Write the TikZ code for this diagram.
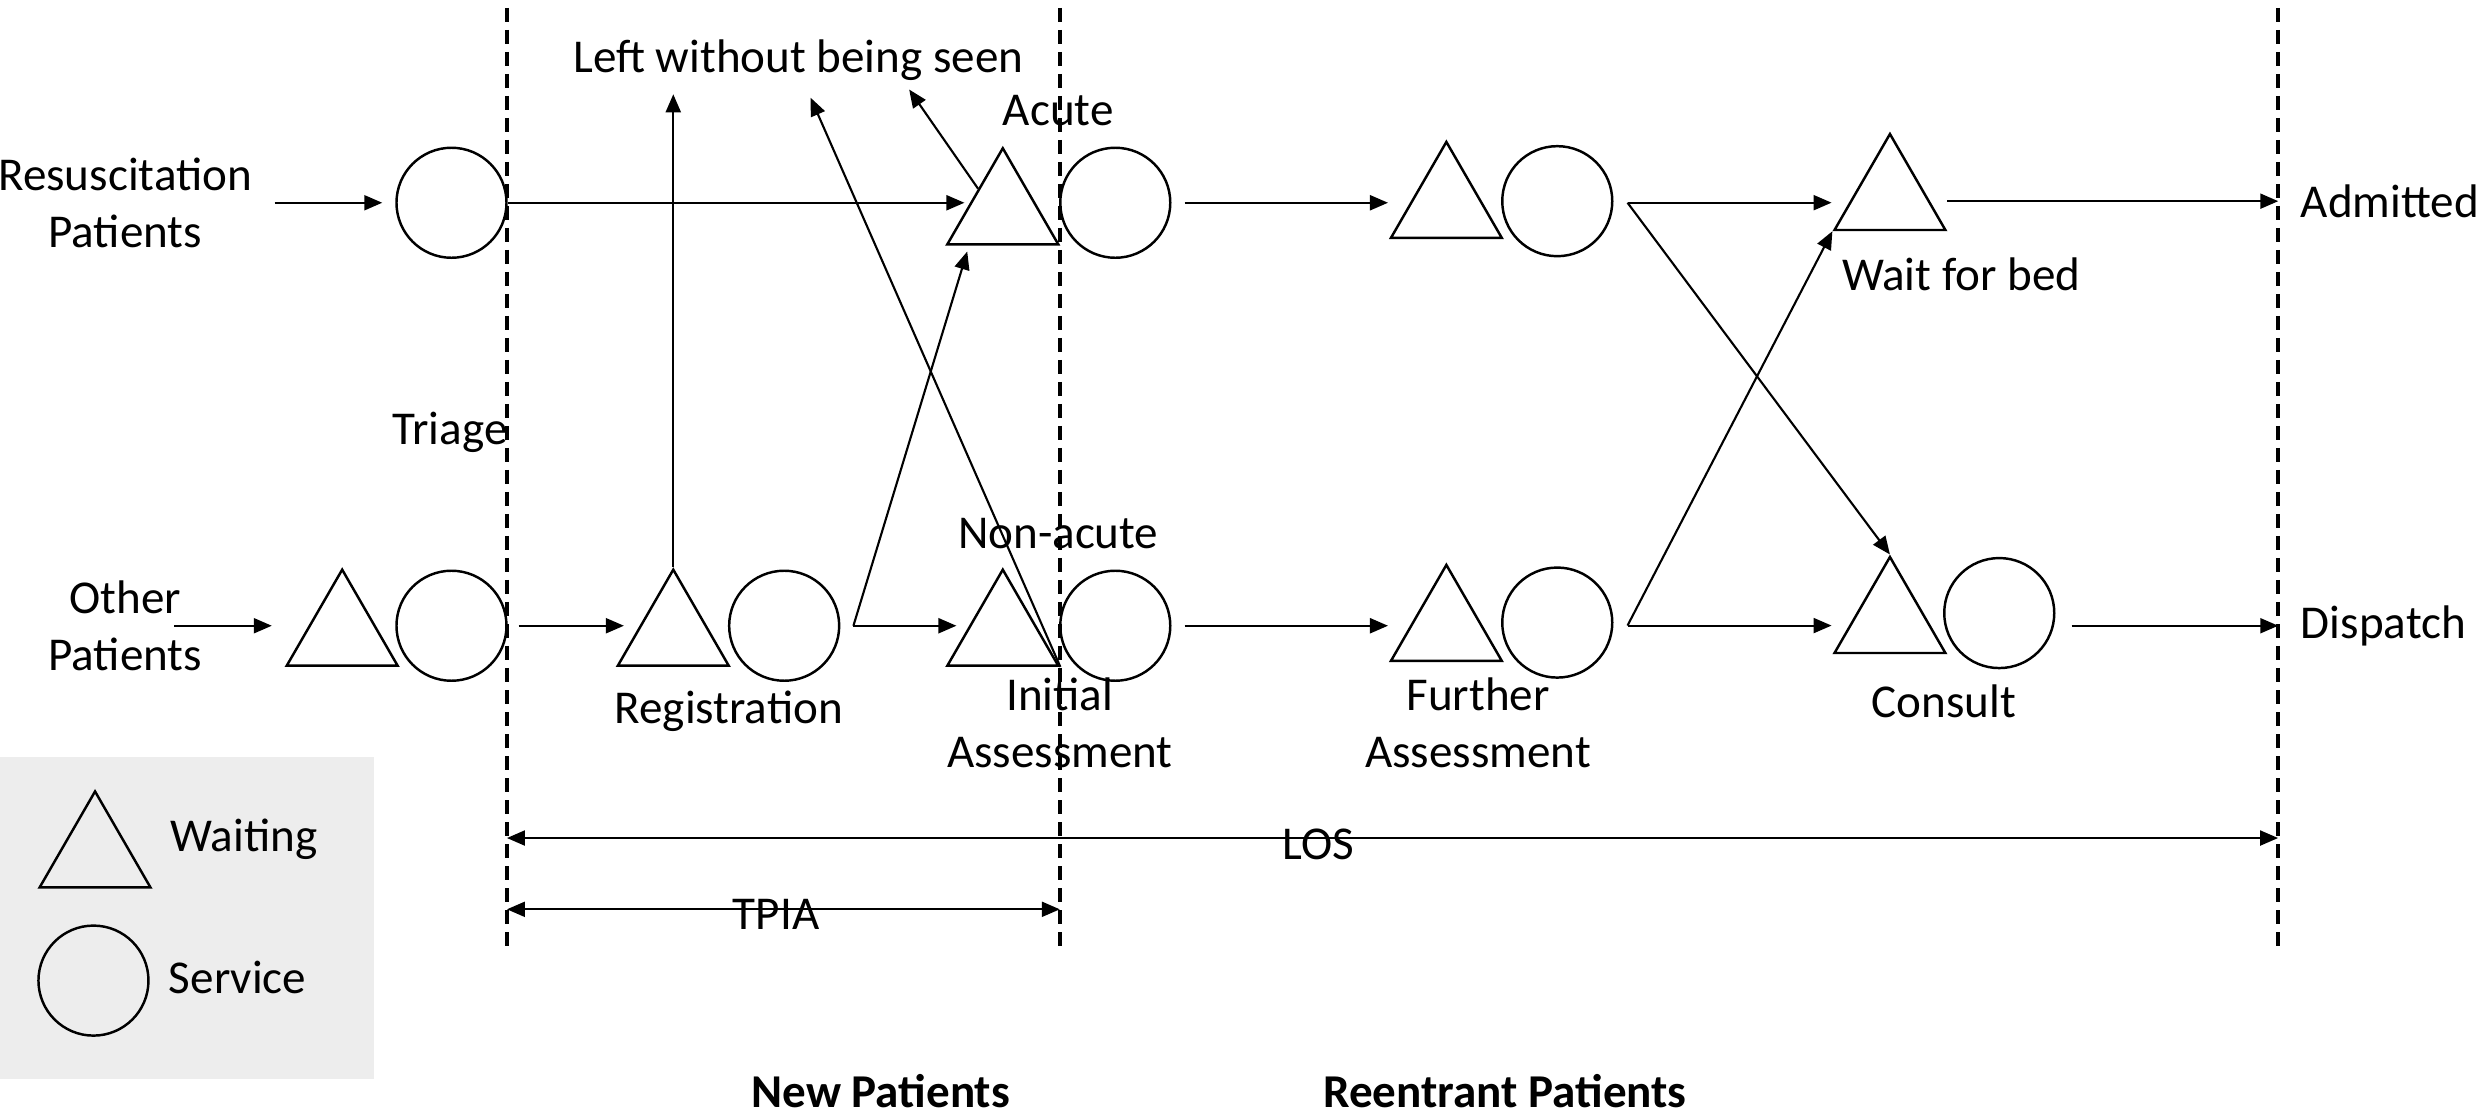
\documentclass[tikz,border=0pt]{standalone}
\usepackage{fontspec}
\setmainfont{Carlito}
\usetikzlibrary{arrows.meta,shapes.geometric,calc}

\tikzset{
  waiting/.style={draw, regular polygon, regular polygon sides=3, minimum size=12.8mm, inner sep=0pt, line width=0.7pt},
  service/.style={draw, circle, minimum size=11mm, inner sep=0pt, line width=0.7pt},
  txt/.style={align=center, inner sep=0pt},
  arr/.style={-{Triangle[length=1.8mm,width=1.5mm]}, line width=0.6pt},
  measure/.style={{Triangle[length=1.8mm,width=1.5mm]}-{Triangle[length=1.8mm,width=1.5mm]}, line width=0.6pt},
  divider/.style={line width=1pt, dash pattern=on 1.4mm off 0.8mm},
}

\begin{document}
\begin{tikzpicture}[x=0.1584mm, y=-0.1584mm, font=\fontsize{13.4}{16.2}\selectfont]
\useasboundingbox (0,0) rectangle (1568,705);

% legend
\fill[black!7] (0,478) rectangle (236,681);
\node[waiting] (legW) at (60,540) {};
\node[service] (legS) at (59,619) {};
\node[txt] (legWt) at (154,530) {Waiting};
\node[txt] (legSt) at (150,617) {Service};

% separators
\draw[divider] (320,5) -- (320,597);
\draw[divider] (669,5) -- (669,597);
\draw[divider] (1438,5) -- (1438,597);

% top row
\node[txt] (resus) at (79,128) {Resuscitation\\Patients};
\node[service] (triR) at (285,128) {};
\node[waiting] (acuteW) at (633,134) {};
\node[service] (acuteS) at (704,128) {};
\node[waiting] (furtherAW) at (913,130) {};
\node[service] (furtherAS) at (983,127) {};
\node[waiting] (bedW) at (1193,125) {};
\node[txt, anchor=west] (admitted) at (1452,127) {Admitted};

% bottom row
\node[txt] (other) at (79,395) {Other\\Patients};
\node[waiting] (triW) at (216,400) {};
\node[service] (triS) at (285,395) {};
\node[waiting] (regW) at (425,400) {};
\node[service] (regS) at (495,395) {};
\node[waiting] (nonW) at (633,400) {};
\node[service] (nonS) at (704,395) {};
\node[waiting] (furtherBW) at (913,397) {};
\node[service] (furtherBS) at (983,393) {};
\node[waiting] (consW) at (1193,392) {};
\node[service] (consS) at (1262,387) {};
\node[txt, anchor=west] (dispatch) at (1452,395) {Dispatch};

% labels
\node[txt] (lwbs) at (504,38) {Left without being seen};
\node[txt] (acute) at (668,70) {Acute};
\node[txt] (triage) at (284,273) {Triage};
\node[txt] (nonacute) at (668,337) {Non-acute};
\node[txt] (registration) at (460,449) {Registration};
\node[txt] (initial) at (669,456) {Initial\\Assessment};
\node[txt] (further) at (933,456) {Further\\Assessment};
\node[txt] (waitbed) at (1238,173) {Wait for bed};
\node[txt] (consult) at (1227,443) {Consult};
\node[txt, font=\fontsize{13.4}{16.2}\selectfont\bfseries] (newp) at (556,689) {New Patients};
\node[txt, font=\fontsize{13.4}{16.2}\selectfont\bfseries] (reentp) at (950,689) {Reentrant Patients};

\coordinate (ro) at ([xshift=1.3mm]regS.east);
\coordinate (fa) at ([xshift=1.4mm,yshift=-0.15mm]furtherAS.east);
\coordinate (fb) at ([xshift=1.4mm,yshift=-0.3mm]furtherBS.east);

% flows
\draw[arr, shorten <=2.2mm, shorten >=1.3mm] (resus.east) -- (triR.west);
\draw[arr] (triR.east) -- (triR.east -| acuteW.west);
\draw[arr, shorten <=1.3mm, shorten >=2mm] (acuteS.east) -- (acuteS.east -| furtherAW.west);
\draw[arr, shorten >=2mm] (fa) -- (fa -| bedW.west);
\draw[arr, shorten <=1.9mm, shorten >=2.2mm] (bedW.east |- admitted.west) -- (admitted.west);

\draw[arr, shorten >=3.2mm] ([xshift=-2.85mm]other.east) -- (triW.west |- other.east);
\draw[arr, shorten <=1.1mm, shorten >=1.1mm] (triS.east) -- (triS.east -| regW.west);
\draw[arr, shorten >=0.8mm] (ro) -- (ro -| nonW.west);
\draw[arr] (ro) -- ([xshift=2.2mm,yshift=-0.6mm]acuteW.corner 2);
\draw[arr, shorten <=1.3mm, shorten >=2mm] (nonS.east) -- (nonS.east -| furtherBW.west);
\draw[arr, shorten >=2mm] (fb) -- (fb -| consW.west);
\draw[arr] (fa) -- (consW.corner 1);
\draw[arr] (fb) -- (bedW.corner 2);
\draw[arr, shorten <=1.6mm, shorten >=2.2mm] (consS.east |- dispatch.west) -- (dispatch.west);

% left without being seen
\draw[arr, shorten >=1.3mm] (regW.corner 1) -- (regW.corner 1 |- lwbs.south);
\draw[arr, shorten >=1.8mm] (nonW.corner 3) -- ([xshift=0.5mm]lwbs.south);
\draw[arr, shorten >=1mm] ($(acuteW.corner 1)!0.43!(acuteW.corner 2)$) -- ([xshift=10.5mm]lwbs.south);

% times
\coordinate (los1) at (320,529);
\coordinate (los2) at (1438,529);
\coordinate (tpia1) at (320,574);
\coordinate (tpia2) at (669,574);
\draw[measure] (los1) -- node[txt, pos=0.458, yshift=-0.6mm] (los) {LOS} (los2);
\draw[measure] (tpia1) -- node[txt, pos=0.487, yshift=-0.5mm] (tpia) {TPIA} (tpia2);

\end{tikzpicture}
\end{document}
